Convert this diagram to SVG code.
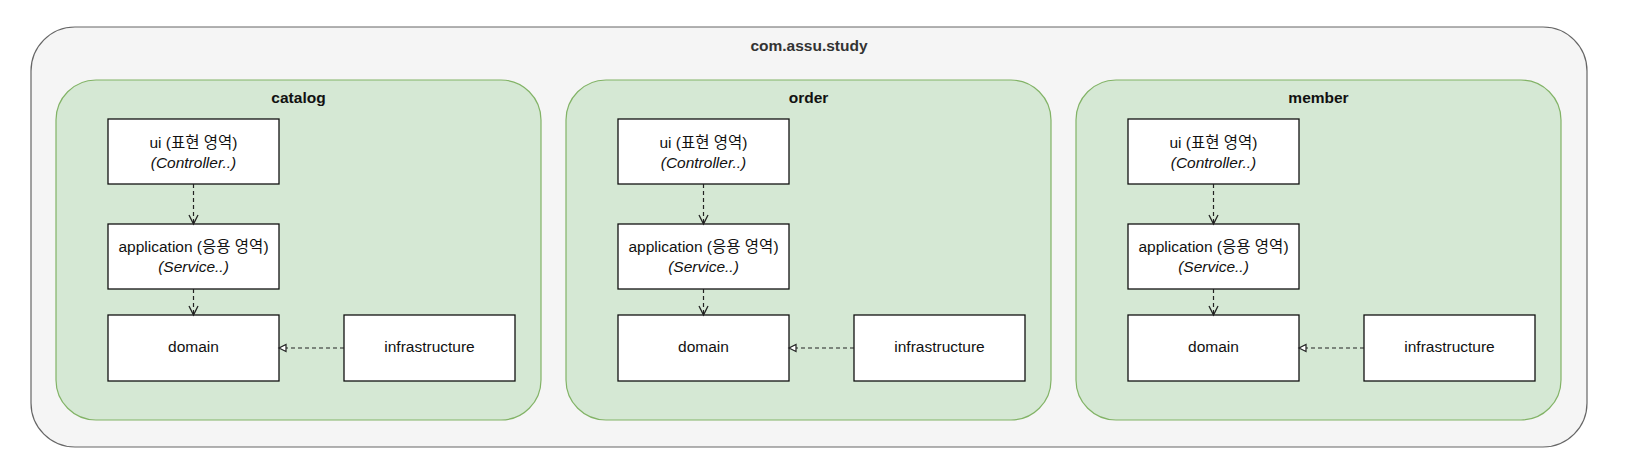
<svg xmlns="http://www.w3.org/2000/svg" width="1636" height="464" viewBox="0 0 1636 464">
  <style>
    text { font-family: "Liberation Sans", "Noto Sans CJK KR", sans-serif; font-size: 15.5px; text-anchor: middle; fill: #111; }
    .title { font-weight: bold; }
    .outer-title { font-weight: bold; fill: #333; }
    .it { font-style: italic; }
    .outer { fill: #f5f5f5; stroke: #666; stroke-width: 1.2; }
    .pkg { fill: #d5e8d4; stroke: #82b366; stroke-width: 1.2; }
    .box { fill: #fff; stroke: #111; stroke-width: 1.3; }
    .dep { fill: none; stroke: #222; stroke-width: 1.2; stroke-dasharray: 4 3; }
  </style>
  <defs>
    <marker id="open" markerUnits="userSpaceOnUse" markerWidth="14" markerHeight="14" refX="10" refY="6" orient="auto">
      <path d="M1,1.5 L10,6 L1,10.5" fill="none" stroke="#222" stroke-width="1.3"/>
    </marker>
    <marker id="tri" markerUnits="userSpaceOnUse" markerWidth="12" markerHeight="12" refX="8" refY="5" orient="auto">
      <path d="M1,1.5 L8,5 L1,8.5 Z" fill="#fff" stroke="#222" stroke-width="1.2"/>
    </marker>
  </defs>
  <rect width="1636" height="464" fill="#fff"/>
  <g id="com-assu-study">
    <rect class="outer" x="31" y="27" width="1556" height="420" rx="44" ry="44"/>
    <text class="outer-title" x="809" y="51">com.assu.study</text>
  </g>

  <g id="catalog">
    <rect class="pkg" x="56" y="80" width="485" height="340" rx="40" ry="40"/>
    <text class="title" x="298.5" y="103">catalog</text>
  </g>
  <g id="catalog-ui">
    <rect class="box" x="108" y="119" width="171" height="65"/>
    <text x="193.5" y="148">ui (표현 영역)</text>
    <text class="it" x="193.5" y="168">(Controller..)</text>
  </g>
  <g id="catalog-application">
    <rect class="box" x="108" y="224" width="171" height="65"/>
    <text x="193.5" y="252">application (응용 영역)</text>
    <text class="it" x="193.5" y="272">(Service..)</text>
  </g>
  <g id="catalog-domain">
    <rect class="box" x="108" y="315" width="171" height="66"/>
    <text x="193.5" y="352">domain</text>
  </g>
  <g id="catalog-infrastructure">
    <rect class="box" x="344" y="315" width="171" height="66"/>
    <text x="429.5" y="352">infrastructure</text>
  </g>

  <g id="order">
    <rect class="pkg" x="566" y="80" width="485" height="340" rx="40" ry="40"/>
    <text class="title" x="808.5" y="103">order</text>
  </g>
  <g id="order-ui">
    <rect class="box" x="618" y="119" width="171" height="65"/>
    <text x="703.5" y="148">ui (표현 영역)</text>
    <text class="it" x="703.5" y="168">(Controller..)</text>
  </g>
  <g id="order-application">
    <rect class="box" x="618" y="224" width="171" height="65"/>
    <text x="703.5" y="252">application (응용 영역)</text>
    <text class="it" x="703.5" y="272">(Service..)</text>
  </g>
  <g id="order-domain">
    <rect class="box" x="618" y="315" width="171" height="66"/>
    <text x="703.5" y="352">domain</text>
  </g>
  <g id="order-infrastructure">
    <rect class="box" x="854" y="315" width="171" height="66"/>
    <text x="939.5" y="352">infrastructure</text>
  </g>

  <g id="member">
    <rect class="pkg" x="1076" y="80" width="485" height="340" rx="40" ry="40"/>
    <text class="title" x="1318.5" y="103">member</text>
  </g>
  <g id="member-ui">
    <rect class="box" x="1128" y="119" width="171" height="65"/>
    <text x="1213.5" y="148">ui (표현 영역)</text>
    <text class="it" x="1213.5" y="168">(Controller..)</text>
  </g>
  <g id="member-application">
    <rect class="box" x="1128" y="224" width="171" height="65"/>
    <text x="1213.5" y="252">application (응용 영역)</text>
    <text class="it" x="1213.5" y="272">(Service..)</text>
  </g>
  <g id="member-domain">
    <rect class="box" x="1128" y="315" width="171" height="66"/>
    <text x="1213.5" y="352">domain</text>
  </g>
  <g id="member-infrastructure">
    <rect class="box" x="1364" y="315" width="171" height="66"/>
    <text x="1449.5" y="352">infrastructure</text>
  </g>

  <g id="connectors">
    <line class="dep" x1="193.5" y1="184" x2="193.5" y2="224" marker-end="url(#open)"/>
    <line class="dep" x1="193.5" y1="289" x2="193.5" y2="315" marker-end="url(#open)"/>
    <line class="dep" x1="344" y1="348" x2="279" y2="348" marker-end="url(#tri)"/>

    <line class="dep" x1="703.5" y1="184" x2="703.5" y2="224" marker-end="url(#open)"/>
    <line class="dep" x1="703.5" y1="289" x2="703.5" y2="315" marker-end="url(#open)"/>
    <line class="dep" x1="854" y1="348" x2="789" y2="348" marker-end="url(#tri)"/>

    <line class="dep" x1="1213.5" y1="184" x2="1213.5" y2="224" marker-end="url(#open)"/>
    <line class="dep" x1="1213.5" y1="289" x2="1213.5" y2="315" marker-end="url(#open)"/>
    <line class="dep" x1="1364" y1="348" x2="1299" y2="348" marker-end="url(#tri)"/>
  </g>
</svg>
